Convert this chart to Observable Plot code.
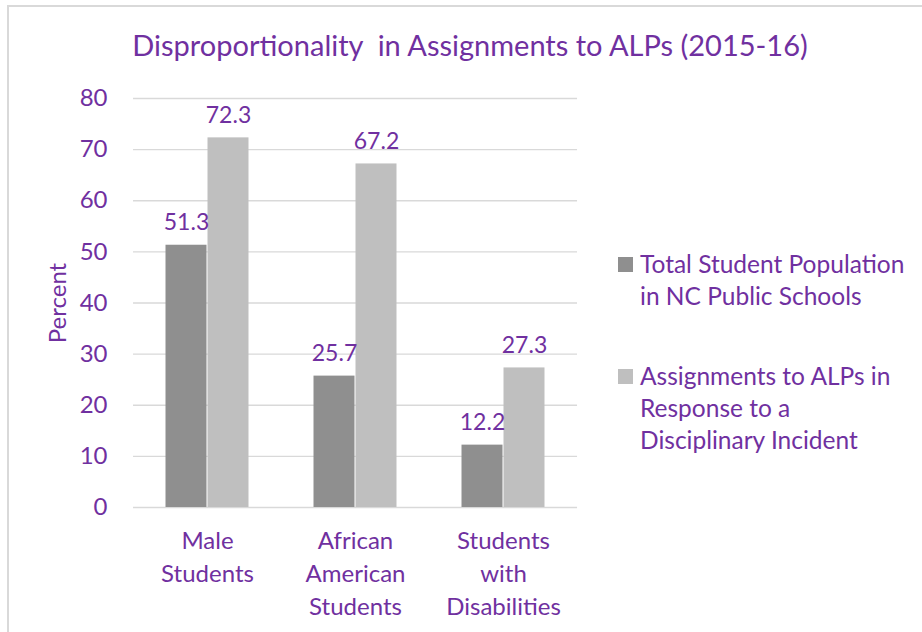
<!DOCTYPE html>
<html>
<head>
<meta charset="utf-8">
<script src="https://cdn.jsdelivr.net/npm/d3@7"></script>
<script src="https://cdn.jsdelivr.net/npm/@observablehq/plot@0.6"></script>
<style>
  body { margin: 0; background: #fff; font-family: Lato, "Open Sans", sans-serif; }
  #wrap { position: relative; width: 922px; height: 632px; overflow: hidden; background: #fff; }
  #frame { position: absolute; left: 7px; top: 5px; width: 940px; height: 650px; border: 2px solid #d9d9d9; box-sizing: border-box; }
  #title { position: absolute; left: 0; top: 27px; width: 922px; padding-left: 18px; box-sizing: border-box; text-align: center; color: #7030a0; font-size: 29px; white-space: pre; }
  #chart { position: absolute; left: 0; top: 70px; }
  #legend { position: absolute; left: 618px; top: 248px; color: #7030a0; font-size: 24.5px; line-height: 32px; }
  .item { display: flex; align-items: flex-start; margin-bottom: 48px; }
  .sw { width: 15px; height: 15px; margin-top: 9px; margin-right: 7px; flex: none; }
</style>
</head>
<body>
<div id="wrap">
  <div id="frame"></div>
  <div id="title"></div>
  <div id="chart"></div>
  <div id="legend"></div>
</div>
<script>
const titleText = "Disproportionality  in Assignments to ALPs (2015-16)";
const categories = ["Male Students", "African American Students", "Students with Disabilities"];
const categoryLabels = ["Male\nStudents", "African\nAmerican\nStudents", "Students\nwith\nDisabilities"];
const series = ["Total Student Population in NC Public Schools", "Assignments to ALPs in Response to a Disciplinary Incident"];
const seriesLabels = ["Total Student Population\nin NC Public Schools", "Assignments to ALPs in\nResponse to a\nDisciplinary Incident"];
const totalPopulation = [51.3, 25.7, 12.2];
const alpAssignments = [72.3, 67.2, 27.3];
const yTicks = [0, 10, 20, 30, 40, 50, 60, 70, 80];
const colors = ["#8f8f8f", "#bfbfbf"];
const purple = "#7030a0";

const data = [];
categories.forEach((c, i) => {
  data.push({category: c, series: series[0], value: totalPopulation[i]});
  data.push({category: c, series: series[1], value: alpAssignments[i]});
});

document.getElementById("title").textContent = titleText;

const labelOf = c => categoryLabels[categories.indexOf(c)];

const W = 600, ML = 133, MR = 23;
const innerWidth = W - ML - MR;
const padInner = 0.432, padOuter = 0.216;
const step = innerWidth / (categories.length - padInner + 2 * padOuter);
const outerGap = padOuter * step; // distance from frame edge to first facet

const chart = Plot.plot({
  width: W,
  height: 560,
  marginLeft: ML,
  marginRight: MR,
  marginTop: 28,
  marginBottom: 123,
  style: {fontFamily: "Lato, 'Open Sans', sans-serif", background: "transparent"},
  fx: {domain: categories, paddingInner: padInner, paddingOuter: padOuter, label: null},
  x: {domain: series, padding: 0, axis: null},
  y: {domain: [0, 80], label: "Percent"},
  color: {domain: series, range: colors},
  marks: [
    Plot.axisY(yTicks, {tickSize: -innerWidth, dx: -outerGap, stroke: "#d9d9d9", strokeWidth: 1.4, fill: "none", label: null}),
    Plot.barY(data, {fx: "category", x: "series", y: "value", fill: "series", insetRight: 0.5, insetLeft: 0.5}),
    Plot.text(data, {fx: "category", x: "series", y: "value", text: d => d.value.toFixed(1), dy: -15, lineAnchor: "bottom", fill: purple, fontSize: 23}),
    Plot.axisY(yTicks, {tickSize: 0, tickPadding: outerGap + 26, fontSize: 24, fill: purple, label: "Percent", labelAnchor: "center", labelOffset: 117, labelArrow: "none"}),
    Plot.axisFx({anchor: "bottom", tickSize: 0, tickPadding: 18, fontSize: 24, fill: purple, lineHeight: 1.38, lineAnchor: "top", tickFormat: labelOf, label: null})
  ]
});
document.getElementById("chart").appendChild(chart);

const legend = document.getElementById("legend");
series.forEach((s, i) => {
  const item = document.createElement("div");
  item.className = "item";
  const sw = document.createElement("div");
  sw.className = "sw";
  sw.style.background = colors[i];
  const t = document.createElement("div");
  t.style.whiteSpace = "pre";
  t.textContent = seriesLabels[i];
  item.appendChild(sw);
  item.appendChild(t);
  legend.appendChild(item);
});
</script>
</body>
</html>
